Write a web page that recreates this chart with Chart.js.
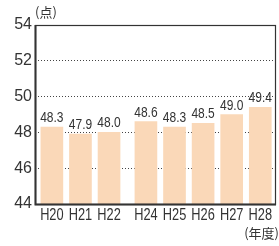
<!DOCTYPE html>
<html>
<head>
<meta charset="utf-8">
<script src="https://cdn.jsdelivr.net/npm/chart.js@4"></script>
<style>
html,body{margin:0;padding:0;background:#fff;}
#wrap{width:279px;height:246px;position:relative;}
</style>
</head>
<body>
<div id="wrap"><canvas id="c" width="279" height="246"></canvas></div>
<script>
const categories = ['H20','H21','H22','H24','H25','H26','H27','H28'];
const values = [48.3, 47.9, 48.0, 48.6, 48.3, 48.5, 49.0, 49.4];
const yTicks = [44, 46, 48, 50, 52, 54];
const yUnit = '(点)';
const xUnit = '(年度)';

const regular = "'Liberation Sans',Arial,sans-serif";
const cjk = "'Noto Sans CJK JP','Noto Sans',sans-serif";
const ink = '#333333';
const squeeze = 0.8;

// layout: small gap where H23 is missing
const gapAfter = 3, gapSize = 0.29;
const pos = i => i + (i >= gapAfter ? gapSize : 0);

const points = values.map((v, i) => ({ x: pos(i), y: v }));

function narrowText(ctx, text, x, y, align) {
  ctx.save();
  ctx.translate(x, y);
  ctx.scale(squeeze, 1);
  ctx.textAlign = align;
  ctx.fillText(text, 0, 0);
  ctx.restore();
}

const extras = {
  id: 'extras',
  afterDraw(chart) {
    const ctx = chart.ctx, a = chart.chartArea;
    const meta = chart.getDatasetMeta(0);
    const xs = chart.scales.x;
    ctx.save();
    ctx.fillStyle = ink;
    ctx.font = "15px " + regular;
    ctx.textBaseline = 'alphabetic';
    // value labels
    meta.data.forEach((bar, i) => {
      narrowText(ctx, values[i].toFixed(1), bar.x, bar.y - 5, 'center');
    });
    // category labels
    ctx.font = "16px " + regular;
    categories.forEach((c, i) => {
      narrowText(ctx, c, xs.getPixelForValue(pos(i)), a.bottom + 16, 'center');
    });
    // frame
    ctx.strokeStyle = ink;
    ctx.lineWidth = 1.2;
    ctx.strokeRect(a.left + 0.5, a.top + 0.5, a.right - a.left - 1, a.bottom - a.top);
    ctx.lineWidth = 2;
    ctx.beginPath();
    ctx.moveTo(a.left + 0.5, a.top);
    ctx.lineTo(a.left + 0.5, a.bottom + 0.5);
    ctx.lineTo(a.right, a.bottom + 0.5);
    ctx.stroke();
    // unit labels
    ctx.font = "13px " + cjk;
    ctx.textAlign = 'left';
    ctx.textBaseline = 'middle';
    ctx.fillText(yUnit, a.left, 12);
    ctx.textAlign = 'right';
    ctx.fillText(xUnit, 279, 233);
    ctx.restore();
  }
};

new Chart(document.getElementById('c'), {
  type: 'bar',
  data: {
    datasets: [{
      data: points,
      backgroundColor: '#FAD8B8',
      borderWidth: 0,
      barThickness: 22
    }]
  },
  options: {
    responsive: false,
    animation: false,
    devicePixelRatio: 1,
    layout: { padding: { top: 25, right: 3, left: 0, bottom: 0 } },
    plugins: { legend: { display: false }, tooltip: { enabled: false } },
    scales: {
      x: {
        type: 'linear',
        offset: false,
        min: -0.59,
        max: 7.84,
        grid: { display: false },
        border: { display: false },
        afterBuildTicks: s => { s.ticks = categories.map((c, i) => ({ value: pos(i) })); },
        afterFit: s => { s.height = 42; },
        ticks: { display: false }
      },
      y: {
        min: 44,
        max: 54,
        afterBuildTicks: s => { s.ticks = yTicks.map(v => ({ value: v })); },
        afterFit: s => { s.width = 35; },
        grid: {
          color: c => (c.tick.value === 44 || c.tick.value === 54) ? 'rgba(0,0,0,0)' : '#444',
          lineWidth: 1,
          drawTicks: false
        },
        border: { display: false, dash: [1, 2] },
        ticks: {
          padding: 3,
          color: ink,
          font: { family: regular, size: 16 }
        }
      }
    }
  },
  plugins: [extras]
});
</script>
</body>
</html>
